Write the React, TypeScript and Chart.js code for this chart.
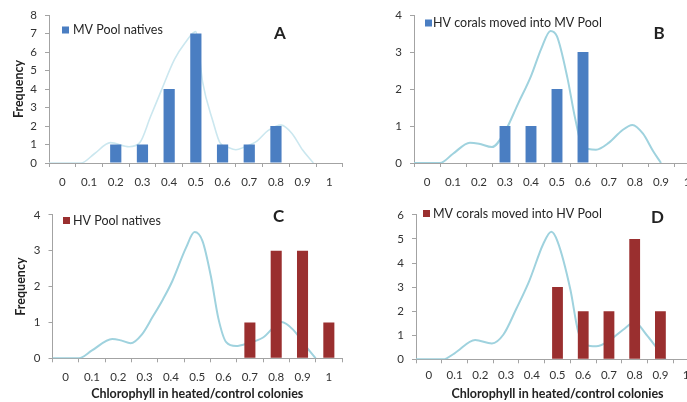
import React, { useEffect, useRef } from 'react';
import { Chart, registerables } from 'chart.js';

Chart.register(...registerables);

// ---- Data ----
const categories = ['0', '0.1', '0.2', '0.3', '0.4', '0.5', '0.6', '0.7', '0.8', '0.9', '1'];

const barsA = [0, 0, 1, 1, 4, 7, 1, 1, 2, 0, 0];
const barsB = [0, 0, 0, 1, 1, 2, 3, 0, 0, 0, 0];
const barsC = [0, 0, 0, 0, 0, 0, 0, 1, 3, 3, 1];
const barsD = [0, 0, 0, 0, 0, 3, 2, 2, 5, 2, 0];

const curveAx = [-0.05, 0.07, 0.12, 0.18, 0.25, 0.29, 0.33, 0.37, 0.42, 0.46, 0.5, 0.525, 0.565, 0.59, 0.62, 0.65, 0.68, 0.73, 0.77, 0.82, 0.86, 0.9, 0.94];
const curveAy = [0, 0, 0.5, 1.1, 0.88, 1.1, 2.5, 3.9, 5.6, 6.5, 7.1, 4.4, 2.2, 1.1, 0.85, 0.72, 0.85, 1.2, 1.75, 2.05, 1.6, 0.7, 0];

const curveBx = [-0.05, 0.05, 0.1, 0.165, 0.2, 0.25, 0.3, 0.35, 0.4, 0.44, 0.475, 0.5, 0.54, 0.57, 0.6, 0.65, 0.7, 0.75, 0.79, 0.83, 0.87, 0.9];
const curveBy = [0, 0, 0.25, 0.55, 0.52, 0.43, 0.85, 1.6, 2.35, 3.1, 3.57, 3.42, 2.3, 1.2, 0.42, 0.36, 0.55, 0.88, 1.03, 0.8, 0.32, 0];

const curveCx = [-0.05, 0.05, 0.1, 0.177, 0.21, 0.247, 0.29, 0.33, 0.37, 0.405, 0.457, 0.49, 0.52, 0.552, 0.58, 0.61, 0.648, 0.686, 0.75, 0.82, 0.864, 0.915, 0.95];
const curveCy = [0, 0, 0.22, 0.54, 0.5, 0.42, 0.67, 1.15, 1.65, 2.15, 3.08, 3.52, 3.27, 2.28, 1.12, 0.45, 0.34, 0.4, 0.58, 1.01, 0.8, 0.31, 0];

const curveDx = [-0.05, 0.056, 0.1, 0.18, 0.245, 0.29, 0.34, 0.39, 0.445, 0.476, 0.5, 0.55, 0.58, 0.61, 0.65, 0.7, 0.755, 0.8, 0.845, 0.884, 0.92];
const curveDy = [0, 0, 0.25, 0.8, 0.66, 1.03, 2.1, 3.25, 4.8, 5.3, 4.9, 2.9, 1.17, 0.6, 0.54, 0.77, 1.23, 1.54, 1.03, 0.5, 0];

const legendA = 'MV Pool natives';
const legendB = 'HV corals moved into MV Pool';
const legendC = 'HV Pool natives';
const legendD = 'MV corals moved into HV Pool';
const xTitle = 'Chlorophyll in heated/control colonies';
const yTitle = 'Frequency';

const BLUE = '#4a7ec2';
const RED = '#9a2f2f';
const AXIS = '#a3a3a3';
const TEXT = '#333333';
const FONT = 'Lato';

const decorPlugin = {
  id: 'decor',
  afterDraw(chart: any, _args: any, o: any) {
    const ctx = chart.ctx;
    ctx.save();
    ctx.fillStyle = o.color;
    ctx.fillRect(o.sx, o.sy, 7, 7);
    ctx.fillStyle = '#262626';
    ctx.font = `12.5px ${FONT}`;
    ctx.textBaseline = 'middle';
    ctx.textAlign = 'left';
    ctx.fillText(o.text, o.tx, o.ty);
    ctx.font = `bold 17px ${FONT}`;
    ctx.textAlign = 'center';
    ctx.fillStyle = '#222222';
    ctx.fillText(o.letter, o.lx, o.ly);
    ctx.restore();
  },
};

type PanelProps = {
  left: number; top: number; width: number; height: number;
  bars: number[]; barColor: string;
  cx: number[]; cy: number[]; curveColor: string; curveWidth: number;
  yMax: number;
  yWidth: number; xHeight: number; padTop: number; padRight: number;
  xTickPad: number;
  showYTitle: boolean; yTitlePad: number;
  showXTitle: boolean;
  decor: any;
};

function Panel(p: PanelProps) {
  const ref = useRef<HTMLCanvasElement>(null);
  useEffect(() => {
    if (!ref.current) return;
    const chart = new Chart(ref.current, {
      type: 'bar',
      data: {
        labels: categories,
        datasets: [
          {
            type: 'bar',
            data: p.bars,
            backgroundColor: p.barColor,
            borderWidth: 0,
            grouped: false,
            categoryPercentage: 1,
            barPercentage: 0.42,
            xAxisID: 'x',
            yAxisID: 'y',
            order: 0,
          } as any,
          {
            type: 'line',
            data: p.cx.map((x, i) => ({ x, y: p.cy[i] })),
            borderColor: p.curveColor,
            borderWidth: p.curveWidth,
            pointRadius: 0,
            cubicInterpolationMode: 'monotone',
            fill: false,
            xAxisID: 'xl',
            yAxisID: 'y',
            order: 1,
          } as any,
        ],
      },
      options: {
        animation: false,
        responsive: false,
        devicePixelRatio: 1,
        layout: { padding: { left: 0, top: p.padTop, right: p.padRight, bottom: 0 } },
        plugins: {
          legend: { display: false },
          tooltip: { enabled: false },
          decor: p.decor,
        } as any,
        scales: {
          x: {
            type: 'category',
            offset: true,
            grid: { offset: true, drawOnChartArea: false, drawTicks: true, tickLength: 4, color: AXIS },
            border: { display: true, color: AXIS },
            ticks: { color: TEXT, font: { family: FONT, size: 11.5 }, padding: p.xTickPad, maxRotation: 0, autoSkip: false },
            title: {
              display: p.showXTitle,
              text: xTitle,
              color: '#222222',
              font: { family: FONT, size: 12.5, weight: 'bold' },
              padding: { top: 0, bottom: 0.5 },
            },
            afterFit: (s: any) => { s.height = p.xHeight; },
          },
          xl: {
            type: 'linear',
            display: false,
            offset: false,
            grid: { offset: false },
            min: -0.05,
            max: 1.05,
          },
          y: {
            type: 'linear',
            min: 0,
            max: p.yMax,
            grid: { drawOnChartArea: false, drawTicks: true, tickLength: 4, color: AXIS },
            border: { display: true, color: AXIS },
            ticks: { stepSize: 1, color: TEXT, font: { family: FONT, size: 11.5 }, padding: 8 },
            title: {
              display: p.showYTitle,
              text: yTitle,
              color: '#222222',
              font: { family: FONT, size: 12.5, weight: 'bold' },
              padding: { top: p.yTitlePad, bottom: 0 },
            },
            afterFit: (s: any) => { s.width = p.yWidth; },
          },
        } as any,
      },
      plugins: [decorPlugin as any],
    });
    return () => chart.destroy();
  }, []);
  return (
    <canvas
      ref={ref}
      width={p.width}
      height={p.height}
      style={{ position: 'absolute', left: p.left, top: p.top, width: p.width, height: p.height }}
    />
  );
}

export default function App() {
  return (
    <div style={{ position: 'absolute', left: 0, top: 0, width: 687, height: 402, overflow: 'hidden', background: '#ffffff' }}>
      <Panel
        left={0} top={0} width={345} height={200}
        bars={barsA} barColor={BLUE}
        cx={curveAx} cy={curveAy} curveColor="#cbe7ef" curveWidth={1.6}
        yMax={8} yWidth={49} xHeight={37} padTop={15} padRight={2.3} xTickPad={8}
        showYTitle={true} yTitlePad={11.5} showXTitle={false}
        decor={{ color: BLUE, sx: 62, sy: 26.5, text: legendA, tx: 73, ty: 30, letter: 'A', lx: 280, ly: 34 }}
      />
      <Panel
        left={344} top={0} width={360} height={200}
        bars={barsB} barColor={BLUE}
        cx={curveBx} cy={curveBy} curveColor="#9fd2de" curveWidth={2}
        yMax={4} yWidth={70} xHeight={37} padTop={15} padRight={4} xTickPad={8}
        showYTitle={false} yTitlePad={0} showXTitle={false}
        decor={{ color: BLUE, sx: 81, sy: 19.5, text: legendB, tx: 89, ty: 23, letter: 'B', lx: 315, ly: 34 }}
      />
      <Panel
        left={0} top={200} width={345} height={202}
        bars={barsC} barColor={RED}
        cx={curveCx} cy={curveCy} curveColor="#9fd2de" curveWidth={2}
        yMax={4} yWidth={52.5} xHeight={43.7} padTop={9} padRight={3} xTickPad={8}
        showYTitle={true} yTitlePad={13.5} showXTitle={true}
        decor={{ color: RED, sx: 63, sy: 17, text: legendC, tx: 73, ty: 21, letter: 'C', lx: 278.5, ly: 17 }}
      />
      <Panel
        left={344} top={200} width={360} height={202}
        bars={barsD} barColor={RED}
        cx={curveDx} cy={curveDy} curveColor="#9fd2de" curveWidth={2}
        yMax={6} yWidth={72} xHeight={42.7} padTop={10} padRight={5} xTickPad={5}
        showYTitle={false} yTitlePad={0} showXTitle={true}
        decor={{ color: RED, sx: 79, sy: 10, text: legendD, tx: 89, ty: 13.5, letter: 'D', lx: 313.5, ly: 17.5 }}
      />
    </div>
  );
}
